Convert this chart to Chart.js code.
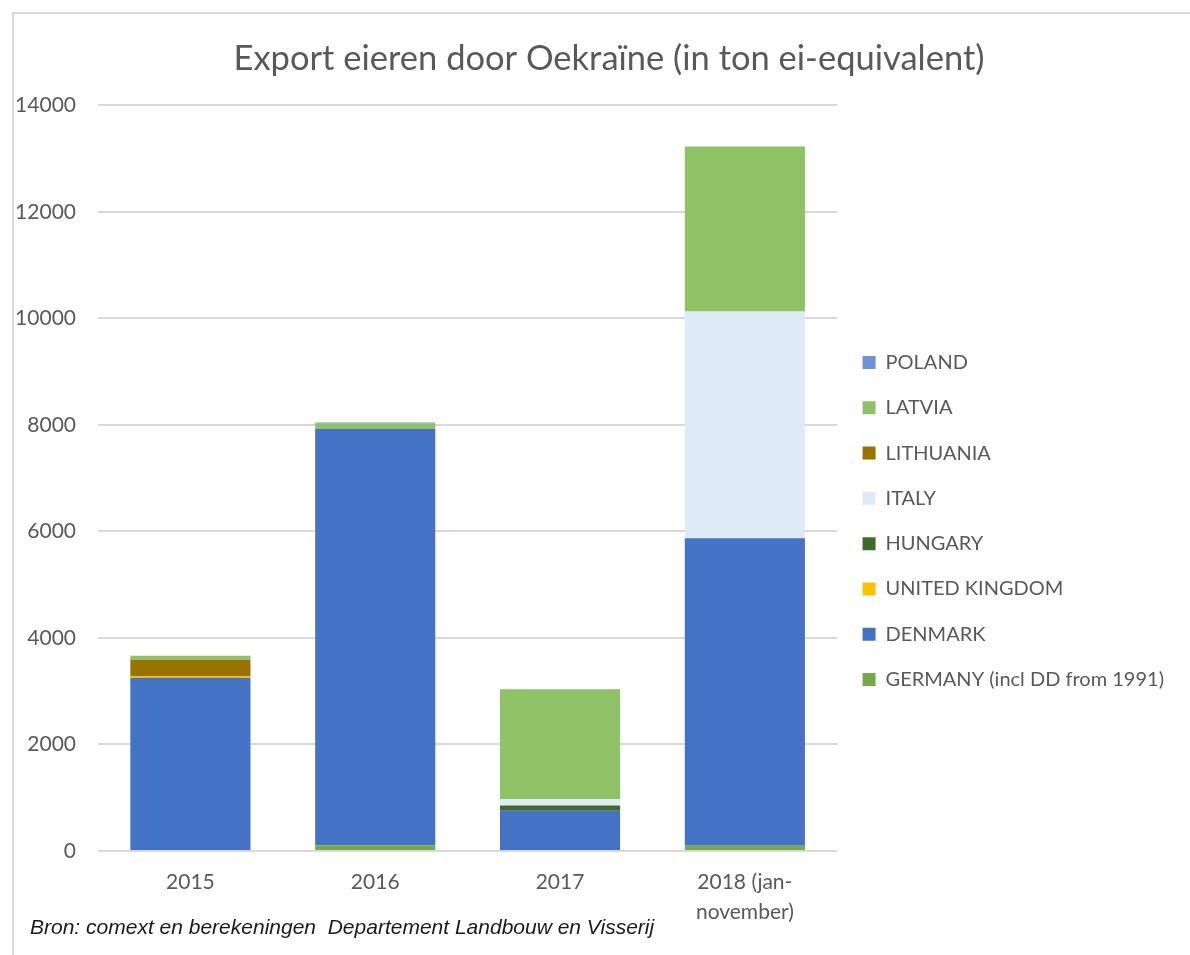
<!DOCTYPE html>
<html>
<head>
<meta charset="utf-8">
<script src="https://cdn.jsdelivr.net/npm/chart.js@4.4.1/dist/chart.umd.min.js"></script>
<style>
    body { margin: 0; background: #fff; }
    #wrap { position: relative; width: 1190px; height: 955px; overflow: hidden; }
    #frame { position: absolute; left: 12px; top: 12px; width: 1200px; height: 1000px;
             border-left: 2px solid #d9d9d9; border-top: 2px solid #d9d9d9; }
    #box { position: absolute; left: 0; top: 0; width: 1190px; height: 1042px; }
    #bron { position: absolute; left: 30px; top: 915px; font: italic 21px "Liberation Sans", Arial, sans-serif;
            color: #1a1a1a; white-space: pre; }
</style>
</head>
<body>
<div id="wrap">
    <div id="frame"></div>
    <div id="box"><canvas id="chart"></canvas></div>
    <div id="bron">Bron: comext en berekeningen  Departement Landbouw en Visserij</div>
</div>
<script>
// Jaren
const years = ['2015', '2016', '2017', ['2018 (jan-', 'november)']];

// Export per land (ton ei-equivalent), van onder naar boven gestapeld
const germany   = [0, 107, 0, 100];
const denmark   = [3255, 7815, 756, 5772];
const unitedKingdom = [30, 0, 0, 0];
const hungary   = [0, 0, 100, 0];
const italy     = [0, 0, 118, 4258];
const lithuania = [300, 0, 0, 0];
const latvia    = [83, 110, 2065, 3096];
const poland    = [0, 15, 0, 0];

const yTicks = [0, 2000, 4000, 6000, 8000, 10000, 12000, 14000];

const series = [
    { label: 'GERMANY (incl DD from 1991)', data: germany, color: '#70ad47' },
    { label: 'DENMARK', data: denmark, color: '#4472c4' },
    { label: 'UNITED KINGDOM', data: unitedKingdom, color: '#ffc000' },
    { label: 'HUNGARY', data: hungary, color: '#43682b' },
    { label: 'ITALY', data: italy, color: '#deebf7' },
    { label: 'LITHUANIA', data: lithuania, color: '#997300' },
    { label: 'LATVIA', data: latvia, color: '#8fc167' },
    { label: 'POLAND', data: poland, color: '#6d91d2' }
];

const grey = '#595959';

// Titel iets naar rechts, zoals in het origineel
const titleShift = {
    id: 'titleShift',
    afterLayout(chart) {
        const t = chart.titleBlock;
        if (t) { t.left = 28; t.right = chart.width; }
    }
};

function drawChart() {
    new Chart(document.getElementById('chart'), {
        type: 'bar',
        data: {
            labels: years,
            datasets: series.map(s => ({
                label: s.label,
                data: s.data,
                backgroundColor: s.color,
                borderWidth: 0,
                barPercentage: 0.65,
                categoryPercentage: 1
            }))
        },
        options: {
            responsive: true,
            maintainAspectRatio: false,
            animation: false,
            layout: { padding: { left: 12, right: 16, top: 0, bottom: 0 } },
            plugins: {
                title: {
                    display: true,
                    text: 'Export eieren door Oekraïne (in ton ei-equivalent)',
                    color: grey,
                    font: { family: 'Lato', size: 34.5, weight: 'normal' },
                    padding: { top: 38, bottom: 26 }
                },
                legend: {
                    position: 'right',
                    reverse: true,
                    maxWidth: 420,
                    labels: {
                        color: grey,
                        font: { family: 'Lato', size: 20 },
                        boxWidth: 13,
                        boxHeight: 13,
                        padding: 25.3
                    }
                },
                tooltip: { enabled: false }
            },
            scales: {
                x: {
                    stacked: true,
                    grid: { display: false },
                    border: { display: false },
                    ticks: { color: grey, font: { family: 'Lato', size: 21, lineHeight: 1.4 }, padding: 9 },
                    afterFit: scale => { scale.height = 191; }
                },
                y: {
                    stacked: true,
                    min: 0,
                    max: 14000,
                    afterBuildTicks: scale => { scale.ticks = yTicks.map(v => ({ value: v })); },
                    grid: { color: '#d9d9d9', lineWidth: 2, drawTicks: false },
                    border: { display: false },
                    ticks: {
                        color: grey,
                        font: { family: 'Lato', size: 21 },
                        padding: 22,
                        callback: v => String(v)
                    },
                    afterFit: scale => { scale.width = 86; }
                }
            }
        },
        plugins: [titleShift]
    });
}

// Lettertype eerst laden zodat de legenda goed gemeten wordt
Promise.all([
    document.fonts.load('20px Lato'),
    document.fonts.load('34px Lato')
]).then(drawChart, drawChart);
</script>
</body>
</html>
